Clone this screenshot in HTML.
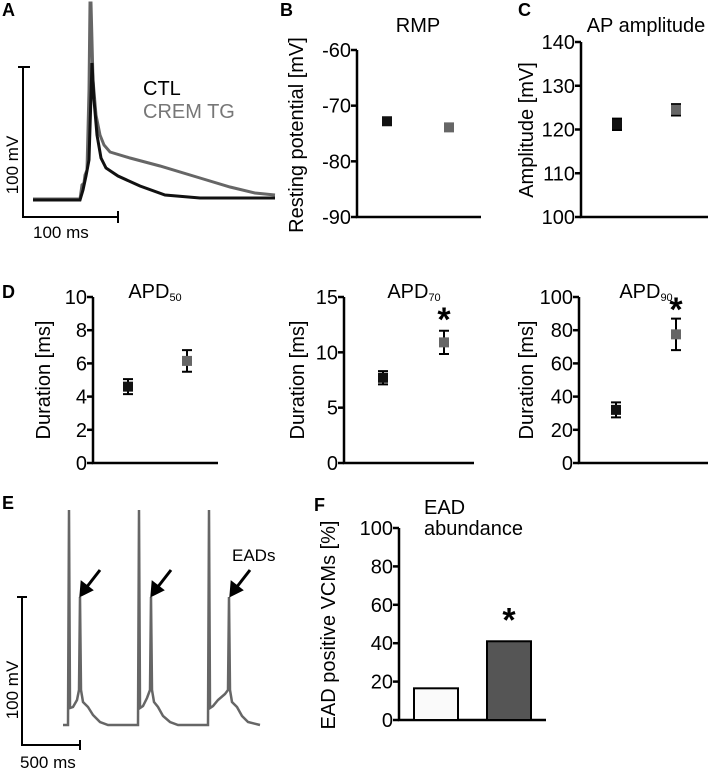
<!DOCTYPE html>
<html><head><meta charset="utf-8"><style>
html,body{margin:0;padding:0;background:#fff;}
svg{display:block;font-family:"Liberation Sans",Arial,sans-serif;}
.t{font-size:20px;fill:#000;}
.L{font-size:18px;font-weight:bold;}
</style></head><body>
<svg id="fig" width="708" height="770" viewBox="0 0 708 770">
<g>
<text class="L" x="2" y="16">A</text>
<path d="M23 67V217H118M18 67H30M118 211V223" stroke="#000" stroke-width="2" fill="none"/>
<text class="t" x="33" y="238" style="font-size:17px">100 ms</text>
<text class="t" style="font-size:17px" transform="translate(18,165) rotate(-90)" text-anchor="middle">100 mV</text>
<path d="M33 199H80L82 185L84 183L85 175L87 170L89 90L90 3L91 3L93 80L96 115L100 135L104 145L110 152L130 158L160 166L200 178L230 187L255 193L275 195" stroke="#666" stroke-width="3" fill="none"/>
<path d="M33 200H80L83 190L86 176L89 160L92 63L94 100L97 135L101 158L106 168L118 176L140 186L165 195L200 198L275 198" stroke="#111" stroke-width="3" fill="none"/>
<text class="t" x="143" y="95">CTL</text>
<text class="t" x="143" y="118" style="fill:#777">CREM TG</text>
</g>
<g id="charts"></g>
<g>
<text class="L" x="2" y="509">E</text>
<path d="M22 597V745H80M17 597H27M80 740V750" stroke="#000" stroke-width="2" fill="none"/>
<text class="t" x="20" y="768" style="font-size:17px">500 ms</text>
<text class="t" style="font-size:17px" transform="translate(18,690) rotate(-90)" text-anchor="middle">100 mV</text>
<path d="M63 725H68L69 510L70 708L73 707L77 700L79 690L80 597L81 690L83 702L88 707L93 715L100 722L108 725H138L139 510L140 708L143 706L147 698L150 690L151 597L152 690L154 702L158 707L163 716L170 722L178 725H208L209 510L210 708L213 706L218 700L225 694L228 690L229 597L230 690L232 702L237 707L242 716L248 722L260 725" stroke="#666" stroke-width="2.5" fill="none"/>
<g stroke="#000" stroke-width="3">
<line x1="100" y1="570" x2="86" y2="588"/><polygon points="81,595 82,583 91,590" fill="#000"/>
<line x1="171" y1="570" x2="157" y2="588"/><polygon points="152,595 153,583 162,590" fill="#000"/>
<line x1="250" y1="570" x2="236" y2="588"/><polygon points="231,595 232,583 241,590" fill="#000"/>
</g>
<text class="t" x="232" y="561" style="font-size:17px">EADs</text>
</g>
</svg>
<script>
// Panel B
const rmpCats=["CTL","CREM TG"];
const rmpVals=[-72.8,-73.9];
const rmpErr=[0.5,0.5];
const rmpTicks=[-60,-70,-80,-90];
// Panel C
const ampVals=[121.2,124.5];
const ampErr=[1.3,1.3];
const ampTicks=[140,130,120,110,100];
// Panel D
const apd50Vals=[4.6,6.15];
const apd50Err=[0.45,0.65];
const apd50Ticks=[10,8,6,4,2,0];
const apd70Vals=[7.7,10.9];
const apd70Err=[0.6,1.05];
const apd70Ticks=[15,10,5,0];
const apd90Vals=[32,77.5];
const apd90Err=[4.5,9.5];
const apd90Ticks=[100,80,60,40,20,0];
// Panel F
const eadVals=[16.5,41];
const eadTicks=[100,80,60,40,20,0];

const NS="http://www.w3.org/2000/svg";
const root=document.getElementById('charts');
function mk(tag,attrs,parent){const e=document.createElementNS(NS,tag);for(const k in attrs)e.setAttribute(k,attrs[k]);(parent||root).appendChild(e);return e;}
function txt(s,attrs,parent){const e=mk('text',attrs,parent);e.textContent=s;return e;}

function axes(g,ax,y0,y1,x1,ticks,lo,hi){
  const y=v=>y0-(v-lo)/(hi-lo)*(y0-y1);
  const l=mk('path',{d:`M${ax} ${y1}V${y0}H${x1}`,stroke:'#000','stroke-width':2.5,fill:'none'},g);
  
  
  ticks.forEach(t=>{
    const tk=mk('line',{x1:ax-6,x2:ax,y1:y(t),y2:y(t),stroke:'#000','stroke-width':2.5},g);
    
    
    const tl=txt(String(t),{x:ax-6,y:y(t)+7,'text-anchor':'end',class:'t'},g);
    
    
  });
  return y;
}
function ylabel(g,s,x,y){const e=txt(s,{transform:`translate(${x},${y}) rotate(-90)`,'text-anchor':'middle',class:'t'},g);
  
  }
function points(g,y,xs,vals,errs){
  const cols=['#111','#666'];
  vals.forEach((v,i)=>{
    const x=xs[i];
    const eb=mk('path',{d:`M${x-5} ${y(v+errs[i])}H${x+5}M${x} ${y(v+errs[i])}V${y(v-errs[i])}M${x-5} ${y(v-errs[i])}H${x+5}`,stroke:'#000','stroke-width':2,fill:'none'},g);
    
    
    const p=mk('rect',{x:x-5,y:y(v)-5,width:10,height:10,fill:cols[i]},g);
    
    
  });
}
function star(g,x,y){const s=txt('*',{x:x,y:y,'text-anchor':'middle','font-size':'34','font-weight':'bold'},g);
  
  }
function title(g,s,sub,x,y){const e=txt(s,{x:x,y:y,'text-anchor':'middle',class:'t'},g);
  if(sub){const ts=mk('tspan',{'font-size':'11',dy:'3'},e);ts.textContent=sub;}
  
  }
function group(name){const g=mk('g',{});return g;}

// B
let g=group('panel-b-rmp');
txt('B',{x:280,y:16,class:'L'},g);
let y=axes(g,357,217,50,481,rmpTicks,-90,-60);
ylabel(g,'Resting potential [mV]',303,135);
title(g,'RMP','',418,32);
points(g,y,[387,449],rmpVals,rmpErr);
// C
g=group('panel-c-amplitude');
txt('C',{x:518,y:16,class:'L'},g);
y=axes(g,581,217,42,708,ampTicks,100,140);
ylabel(g,'Amplitude [mV]',533,130);
title(g,'AP amplitude','',646,32);
points(g,y,[617,676],ampVals,ampErr);
// D
g=group('panel-d-apd50');
txt('D',{x:2,y:298,class:'L'},g);
y=axes(g,93,463,297,218,apd50Ticks,0,10);
ylabel(g,'Duration [ms]',50,380);
title(g,'APD','50',155,298);
points(g,y,[128,187],apd50Vals,apd50Err);
g=group('panel-d-apd70');
y=axes(g,344,463,297,474,apd70Ticks,0,15);
ylabel(g,'Duration [ms]',304,380);
title(g,'APD','70',414,298);
points(g,y,[383,444],apd70Vals,apd70Err);
star(g,444,331);
g=group('panel-d-apd90');
y=axes(g,579,463,297,708,apd90Ticks,0,100);
ylabel(g,'Duration [ms]',533,380);
title(g,'APD','90',646,298);
points(g,y,[616,676],apd90Vals,apd90Err);
star(g,676,321);
// F
g=group('panel-f-ead');
txt('F',{x:314,y:511,class:'L'},g);
y=axes(g,399,720,528,546,eadTicks,0,100);
ylabel(g,'EAD positive VCMs [%]',335,625);
let t1=txt('EAD',{x:424,y:514,class:'t'},g);
let t2=txt('abundance',{x:424,y:535,class:'t'},g);
const bx=[414,487],fills=['#fafafa','#555'];
eadVals.forEach((v,i)=>{
  const b=mk('rect',{x:bx[i],y:y(v),width:44,height:720-y(v),fill:fills[i],stroke:'#000','stroke-width':2},g);
  
  
});
star(g,509,y(eadVals[1])-10);
</script>
</body></html>
